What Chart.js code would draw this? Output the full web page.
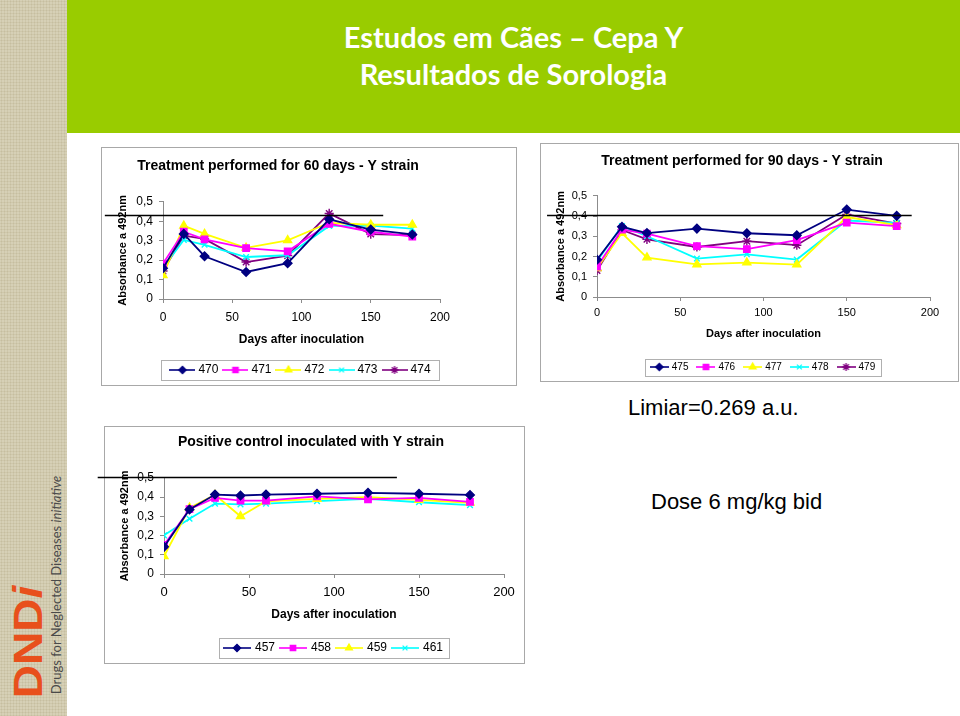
<!DOCTYPE html>
<html><head><meta charset="utf-8">
<script src="https://cdn.jsdelivr.net/npm/chart.js@4.4.1/dist/chart.umd.min.js"></script>
<style>
html,body{margin:0;padding:0;width:960px;height:716px;overflow:hidden;background:#fff;font-family:"Liberation Sans",Arial,sans-serif;position:relative;}
#strip{position:absolute;left:0;top:0;width:67px;height:716px;background-color:#d6d0b6;background-image:radial-gradient(#c6be9f 0.9px,transparent 1.1px);background-size:3px 3px;}
#banner{position:absolute;left:67px;top:0;width:893px;height:133px;background:#99cc00;}
.slideTitle{position:absolute;left:67px;width:893px;text-align:center;color:#fff;font-family:Lato,"Open Sans",sans-serif;font-weight:bold;font-size:29px;line-height:36px;}
.frame{position:absolute;border:1px solid #a8a8a8;box-sizing:border-box;}
canvas{position:absolute;}
.note{position:absolute;font-size:22px;color:#000;white-space:nowrap;line-height:26px;}
#logo{position:absolute;left:-40px;top:622px;width:135px;height:40px;line-height:40px;text-align:center;color:#e8501c;font-family:"Liberation Sans",Arial,sans-serif;font-weight:bold;font-size:40px;transform:rotate(-90deg) scaleX(1.15);}
#logoSub{position:absolute;left:-64px;top:577px;width:240px;height:16px;line-height:16px;text-align:center;color:#4a4a4a;font-family:Lato,sans-serif;font-size:13px;transform:rotate(-90deg);white-space:nowrap;}
</style>
</head>
<body>
<div id="strip"></div>
<div id="banner"></div>
<div class="slideTitle" style="top:19px">Estudos em Cães – Cepa Y</div>
<div class="slideTitle" style="top:56px">Resultados de Sorologia</div>
<div id="logo">DND<i>i</i></div>
<div id="logoSub">Drugs for Neglected Diseases <i>initiative</i></div>

<div class="frame" style="left:101px;top:147px;width:416px;height:239px"></div>
<div class="frame" style="left:540px;top:143px;width:419px;height:239px"></div>
<div class="frame" style="left:104px;top:426px;width:421px;height:238px"></div>

<canvas id="c60" width="432" height="239" style="left:93px;top:147px"></canvas>
<canvas id="c90" width="435" height="239" style="left:532px;top:143px"></canvas>
<canvas id="cCtrl" width="437" height="238" style="left:96px;top:426px"></canvas>

<div class="note" style="left:628px;top:395px">Limiar=0.269 a.u.</div>
<div class="note" style="left:651px;top:489px">Dose 6 mg/kg bid</div>

<script>
// ---- data ----
const days60 = [0, 15, 30, 60, 90, 120, 150, 180];
const days90 = [0, 15, 30, 60, 90, 120, 150, 180];
const daysCtrl = [0, 15, 30, 45, 60, 90, 120, 150, 180];

const dogs60 = ['470', '471', '472', '473', '474'];
const dogs90 = ['475', '476', '477', '478', '479'];
const dogsCtrl = ['457', '458', '459', '461'];

const abs470 = [0.158, 0.335, 0.220, 0.139, 0.184, 0.410, 0.357, 0.332];
const abs471 = [0.182, 0.346, 0.307, 0.262, 0.245, 0.387, 0.346, 0.321];
const abs472 = [0.122, 0.377, 0.335, 0.263, 0.302, 0.392, 0.382, 0.382];
const abs473 = [0.160, 0.304, 0.279, 0.216, 0.225, 0.376, 0.377, 0.362];
const abs474 = [0.144, 0.326, 0.309, 0.190, 0.223, 0.440, 0.334, 0.329];

const abs475 = [0.184, 0.347, 0.316, 0.338, 0.315, 0.305, 0.432, 0.401];
const abs476 = [0.150, 0.333, 0.313, 0.251, 0.237, 0.281, 0.367, 0.350];
const abs477 = [0.142, 0.316, 0.195, 0.161, 0.170, 0.160, 0.395, 0.355];
const abs478 = [0.177, 0.351, 0.300, 0.190, 0.211, 0.185, 0.378, 0.366];
const abs479 = [0.131, 0.331, 0.285, 0.247, 0.276, 0.256, 0.408, 0.363];

const abs457 = [0.141, 0.335, 0.413, 0.408, 0.413, 0.417, 0.422, 0.417, 0.411];
const abs458 = [0.151, 0.337, 0.396, 0.381, 0.381, 0.403, 0.388, 0.396, 0.375];
const abs459 = [0.092, 0.344, 0.411, 0.300, 0.378, 0.390, 0.400, 0.385, 0.370];
const abs461 = [0.201, 0.287, 0.366, 0.362, 0.366, 0.379, 0.390, 0.373, 0.358];

const yTickLabels = ['0', '0,1', '0,2', '0,3', '0,4', '0,5'];
const xTickLabels = ['0', '50', '100', '150', '200'];

// reference lines drawn on the slide (value, start day, end day)
const refLine60 = [0.434, -42, 159];
const refLine90 = [0.405, -30, 189];
const refLineCtrl = [0.503, -39, 137];

// ---- styles ----
const seriesColors = ['#000080', '#ff00ff', '#ffff00', '#00ffff', '#800080'];
const seriesMarkers = ['rectRot', 'rect', 'triangle', 'crossRot', 'star'];
const markerRadii = [4.3, 4.5, 4.6, 4, 4.6];

Chart.defaults.font.family = '"Liberation Sans", Arial, sans-serif';
Chart.defaults.color = '#000';

function legendIcon(i, w) {
  const c = document.createElement('canvas');
  c.width = w; c.height = 12;
  const g = c.getContext('2d');
  g.strokeStyle = seriesColors[i]; g.lineWidth = 1.6;
  g.beginPath(); g.moveTo(0, 6); g.lineTo(w, 6); g.stroke();
  g.fillStyle = seriesColors[i]; g.strokeStyle = seriesColors[i]; g.lineWidth = 1.3;
  Chart.helpers.drawPoint(g, {pointStyle: seriesMarkers[i], radius: markerRadii[i] * 0.85, rotation: 0, borderWidth: 1.3}, w / 2, 6);
  return c;
}

const refLinePlugin = {
  id: 'refLine',
  afterDraw(chart, args, opts) {
    const v = opts.line; if (!v) return;
    const {x, y} = chart.scales;
    const py = Math.round(y.getPixelForValue(v[0])) + 0.5;
    const ctx = chart.ctx;
    ctx.save();
    ctx.strokeStyle = '#000'; ctx.lineWidth = 1.3;
    ctx.beginPath(); ctx.moveTo(x.getPixelForValue(v[1]), py); ctx.lineTo(x.getPixelForValue(v[2]), py); ctx.stroke();
    ctx.restore();
  }
};

const legendFramePlugin = {
  id: 'legendFrame',
  afterDraw(chart, args, opts) {
    const hb = chart.legend && chart.legend.legendHitBoxes;
    if (!hb || !hb.length) return;
    const l = Math.min(...hb.map(h => h.left));
    const r = Math.max(...hb.map(h => h.left + h.width));
    const t = Math.min(...hb.map(h => h.top));
    const b = Math.max(...hb.map(h => h.top + h.height));
    const ctx = chart.ctx;
    ctx.save();
    ctx.strokeStyle = '#b0b0b0'; ctx.lineWidth = 1;
    ctx.strokeRect(Math.round(l - opts.padL) + 0.5, Math.round(t - opts.padY) + 0.5,
                   Math.round(r - l + opts.padL + opts.padR), Math.round(b - t + 2 * opts.padY));
    ctx.restore();
  }
};

function buildChart(id, o) {
  const datasets = o.names.map((name, i) => ({
    label: name,
    data: o.xs.map((d, j) => ({x: d, y: o.series[i][j]})),
    borderColor: seriesColors[i],
    backgroundColor: seriesColors[i],
    borderWidth: 1.8,
    pointStyle: seriesMarkers[i],
    pointRadius: markerRadii[i],
    pointBorderWidth: 1.4,
    tension: 0
  }));
  const icons = o.names.map((n, i) => legendIcon(i, o.iconW));
  const axisGray = '#8c8c8c';
  new Chart(document.getElementById(id), {
    type: 'line',
    data: {datasets},
    options: {
      responsive: false, animation: false, events: [],
      layout: {padding: {left: o.padL, right: o.padR, top: 0, bottom: 0}},
      scales: {
        x: {
          type: 'linear', min: 0, max: 200,
          afterFit: s => { s.height = o.xH; },
          ticks: {stepSize: 50, maxRotation: 0, autoSkip: false, color: '#000', font: {size: o.xTickSize}, padding: o.xTickPad,
                  callback: (v, i) => xTickLabels[i]},
          grid: {display: true, drawOnChartArea: false, drawTicks: true, tickLength: 4, color: axisGray},
          border: {display: true, color: axisGray, width: 1},
          title: {display: true, text: 'Days after inoculation', color: '#000',
                  font: {size: o.xTitleSize, weight: 'bold'}, padding: {top: 0, bottom: o.xTitlePadB}}
        },
        y: {
          type: 'linear', min: 0, max: 0.5,
          afterFit: s => { s.width = o.yW; },
          ticks: {stepSize: 0.1, autoSkip: false, color: '#000', font: {size: o.yTickSize}, padding: 6,
                  callback: (v, i) => yTickLabels[i]},
          grid: {display: true, drawOnChartArea: false, drawTicks: true, tickLength: 4, color: axisGray},
          border: {display: true, color: axisGray, width: 1},
          title: {display: true, text: 'Absorbance a 492nm', color: '#000',
                  font: {size: 11, weight: 'bold'}, padding: {top: 0, bottom: 0}}
        }
      },
      plugins: {
        title: {display: true, text: o.title, color: '#000', font: {size: 14, weight: 'bold'},
                padding: {top: o.tPadT, bottom: o.tPadB}},
        legend: {
          display: true, position: 'bottom', fullSize: false,
          labels: {
            usePointStyle: true, pointStyleWidth: o.boxW, padding: o.legPad, color: '#000',
            font: {size: o.legFont},
            generateLabels: () => o.names.map((n, i) => ({
              text: n, pointStyle: icons[i], datasetIndex: i, hidden: false,
              fontColor: '#000', lineWidth: 0, strokeStyle: 'rgba(0,0,0,0)', fillStyle: 'rgba(0,0,0,0)'
            }))
          }
        },
        tooltip: {enabled: false},
        refLine: {line: o.refLine},
        legendFrame: {padL: o.frameL, padR: o.frameR, padY: o.frameY}
      }
    },
    plugins: [refLinePlugin, legendFramePlugin]
  });
}

buildChart('c60', {
  title: 'Treatment performed for 60 days - Y strain',
  xs: days60, names: dogs60, series: [abs470, abs471, abs472, abs473, abs474],
  refLine: refLine60,
  padL: 23, yW: 47, padR: 85, tPadT: 11, tPadB: 27,
  xH: 58, xTickSize: 12, yTickSize: 12, xTickPad: 7, xTitleSize: 12, xTitlePadB: 10,
  legFont: 12, legPad: 7, iconW: 26, boxW: 20, frameL: 11, frameR: 9, frameY: 4
});

buildChart('c90', {
  title: 'Treatment performed for 90 days - Y strain',
  xs: days90, names: dogs90, series: [abs475, abs476, abs477, abs478, abs479],
  refLine: refLine90,
  padL: 22, yW: 43, padR: 37, tPadT: 10, tPadB: 26,
  xH: 55, xTickSize: 11, yTickSize: 11, xTickPad: 5, xTitleSize: 11, xTitlePadB: 11,
  legFont: 10, legPad: 10, iconW: 19, boxW: 15, frameL: 7, frameR: 6, frameY: 3.5
});

buildChart('cCtrl', {
  title: 'Positive control inoculated with Y strain',
  xs: daysCtrl, names: dogsCtrl, series: [abs457, abs458, abs459, abs461],
  refLine: refLineCtrl,
  padL: 22, yW: 46, padR: 29, tPadT: 8, tPadB: 27,
  xH: 62, xTickSize: 13, yTickSize: 12, xTickPad: 7, xTitleSize: 12, xTitlePadB: 14,
  legFont: 12, legPad: 6, iconW: 28, boxW: 24, frameL: 6, frameR: 6, frameY: 4
});
</script>
</body></html>
